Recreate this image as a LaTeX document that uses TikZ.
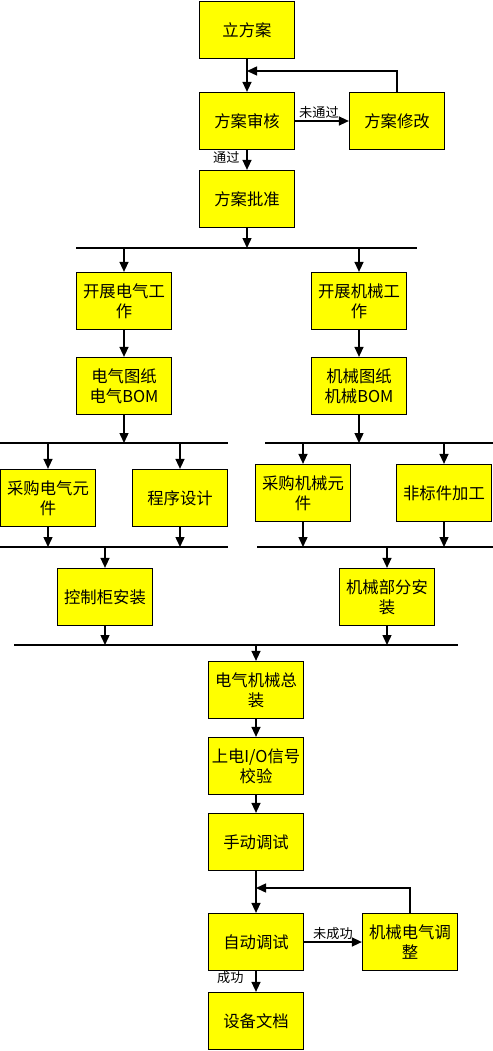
\documentclass[tikz,border=0pt]{standalone}
\usepackage{fontspec}
\setmainfont{Noto Sans CJK SC}
\usepackage{xcolor}
\usetikzlibrary{positioning, arrows.meta}
\definecolor{boxyellow}{RGB}{255,255,0}

\begin{document}
\begin{tikzpicture}[
  x=0.02cm, y=-0.02cm,
  box/.style={draw, line width=0.7pt, fill=boxyellow, minimum width=1.9cm, minimum height=1.14cm,
              inner sep=1pt, align=center, font=\fontsize{9.3}{11.2}\selectfont},
  edge/.style={-{Triangle[length=0.2cm, width=0.18cm]}, thick},
  bar/.style={thick},
  lbl/.style={font=\fontsize{7.5}{9}\selectfont, inner sep=1pt}
]
  \useasboundingbox (0,0) rectangle (493,1051);

  % scheme stage
  \node[box] (plan) at (247,30) {立方案};
  \node[box] (review) at (247,121) {方案审核};
  \node[box] (revise) at (397,121) {方案修改};
  \node[box] (approve) at (247,199) {方案批准};
  \coordinate (backtop) at (247,71);

  \draw[edge] (plan) -- (review);
  \draw[edge] (review) -- node[lbl, above, xshift=-0.06cm]{未通过} (revise);
  \draw[edge] (revise.north) |- (backtop);
  \draw[edge] (review) -- node[lbl, left=0.1cm, pos=0.35]{通过} (approve);

  % split into electrical / mechanical
  \coordinate (splitl) at (76,248);
  \coordinate (splitr) at (417,248);
  \draw[bar] (splitl) -- (splitr);

  \node[box] (elecwork) at (124,301) {开展电气工\\作};
  \node[box] (mechwork) at (359,301) {开展机械工\\作};
  \node[box] (elecbom) at (124,386) {电气图纸\\电气BOM};
  \node[box] (mechbom) at (359,386) {机械图纸\\机械BOM};

  \draw[edge] (approve) -- (approve |- splitl);
  \draw[edge] (elecwork |- splitl) -- (elecwork);
  \draw[edge] (mechwork |- splitl) -- (mechwork);
  \draw[edge] (elecwork) -- (elecbom);
  \draw[edge] (mechwork) -- (mechbom);

  % electrical branch
  \coordinate (eforkl) at (0,443);
  \coordinate (eforkr) at (228,443);
  \coordinate (ejoinl) at (0,547);
  \coordinate (ejoinr) at (228,547);
  \draw[bar] (eforkl) -- (eforkr);
  \draw[bar] (ejoinl) -- (ejoinr);

  \node[box] (elecbuy) at (48,498) {采购电气元\\件};
  \node[box] (program) at (180,498) {程序设计};
  \node[box] (cabinet) at (105,597) {控制柜安装};

  \draw[edge] (elecbom) -- (elecbom |- eforkl);
  \draw[edge] (elecbuy |- eforkl) -- (elecbuy);
  \draw[edge] (program |- eforkl) -- (program);
  \draw[edge] (elecbuy) -- (elecbuy |- ejoinl);
  \draw[edge] (program) -- (program |- ejoinl);
  \draw[edge] (cabinet |- ejoinl) -- (cabinet);

  % mechanical branch
  \coordinate (mforkl) at (265,443);
  \coordinate (mforkr) at (493,443);
  \coordinate (mjoinl) at (257,547);
  \coordinate (mjoinr) at (493,547);
  \draw[bar] (mforkl) -- (mforkr);
  \draw[bar] (mjoinl) -- (mjoinr);

  \node[box] (mechbuy) at (303,493) {采购机械元\\件};
  \node[box] (custom) at (444,493) {非标件加工};
  \node[box] (mechasm) at (387,597) {机械部分安\\装};

  \draw[edge] (mechbom) -- (mechbom |- mforkl);
  \draw[edge] (mechbuy |- mforkl) -- (mechbuy);
  \draw[edge] (custom |- mforkl) -- (custom);
  \draw[edge] (mechbuy) -- (mechbuy |- mjoinl);
  \draw[edge] (custom) -- (custom |- mjoinl);
  \draw[edge] (mechasm |- mjoinl) -- (mechasm);

  % final assembly and debugging
  \coordinate (mergel) at (14,645);
  \coordinate (merger) at (458,645);
  \draw[bar] (mergel) -- (merger);

  \node[box] (assembly) at (256,690) {电气机械总\\装};
  \node[box] (iocheck) at (256,766) {上电I/O信号\\校验};
  \node[box] (manual) at (256,842) {手动调试};
  \node[box] (auto) at (256,942) {自动调试};
  \node[box] (adjust) at (410,942) {机械电气调\\整};
  \node[box] (docs) at (256,1021) {设备文档};
  \coordinate (loopin) at (256,888);

  \draw[edge] (cabinet) -- (cabinet |- mergel);
  \draw[edge] (mechasm) -- (mechasm |- mergel);
  \draw[edge] (assembly |- mergel) -- (assembly);
  \draw[edge] (assembly) -- (iocheck);
  \draw[edge] (iocheck) -- (manual);
  \draw[edge] (manual) -- (auto);
  \draw[edge] (auto) -- node[lbl, above]{未成功} (adjust);
  \draw[edge] (adjust.north) |- (loopin);
  \draw[edge] (auto) -- node[lbl, left=0.2cm, pos=0.3]{成功} (docs);
\end{tikzpicture}
\end{document}
